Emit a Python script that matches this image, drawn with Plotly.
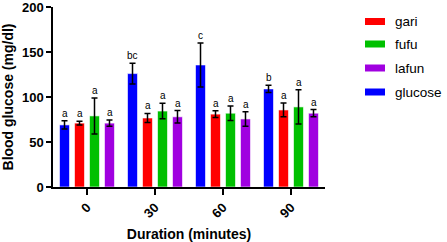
import plotly.graph_objects as go

durations = ["0", "30", "60", "90"]
series_names = ["glucose", "gari", "fufu", "lafun"]
glucose = [69, 126, 135.6, 109]
glucose_err = [4.5, 11.5, 24.5, 4]
gari = [71, 76.7, 81, 85.6]
gari_err = [2, 5, 3.7, 7.6]
fufu = [79, 84.4, 82, 89]
fufu_err = [20, 8.7, 8, 19]
lafun = [71, 78, 75.6, 82]
lafun_err = [3.5, 7, 8, 4]
glucose_lbl = ["a", "bc", "c", "b"]
gari_lbl = ["a", "a", "a", "a"]
fufu_lbl = ["a", "a", "a", "a"]
lafun_lbl = ["a", "a", "a", "a"]
legend_order = ["gari", "fufu", "lafun", "glucose"]

colors = {"glucose": "#0000FF", "gari": "#FF0000", "fufu": "#00C000", "lafun": "#A000E0"}
values = {"glucose": glucose, "gari": gari, "fufu": fufu, "lafun": lafun}
errors = {"glucose": glucose_err, "gari": gari_err, "fufu": fufu_err, "lafun": lafun_err}
labels = {"glucose": glucose_lbl, "gari": gari_lbl, "fufu": fufu_lbl, "lafun": lafun_lbl}

xpos = list(range(len(durations)))  # category index on the x axis

FONT = "Liberation Sans, Arial, sans-serif"
fig = go.Figure()
for name in series_names:
    fig.add_trace(go.Bar(
        x=xpos, y=values[name], name=name,
        marker=dict(color=colors[name], line=dict(color="rgba(255,255,255,0.6)", width=1)),
        error_y=dict(type="data", array=errors[name], visible=True,
                     color="black", thickness=1.5, width=3),
        showlegend=False,
    ))

slot = 15
annotations = []
for k, name in enumerate(series_names):
    for i in xpos:
        annotations.append(dict(
            x=i, y=values[name][i] + errors[name][i], xref="x", yref="y",
            text=labels[name][i], showarrow=False, yanchor="bottom",
            xshift=(k - 1.5) * slot, yshift=0,
            font=dict(family=FONT, size=10, color="black")))

# custom legend (plot area in pixels: x 53..325, y 7..187)
shapes = []
leg_y = [21.5, 44, 68, 92]
for j, name in enumerate(legend_order):
    y = leg_y[j]
    shapes.append(dict(type="rect", xref="paper", yref="paper",
                       x0=(365 - 53) / 272, x1=(385 - 53) / 272,
                       y0=(187 - (y + 3.5)) / 180, y1=(187 - (y - 3.5)) / 180,
                       line=dict(width=0), fillcolor=colors[name], layer="above"))
    annotations.append(dict(xref="paper", yref="paper", x=(394 - 53) / 272,
                            y=(187 - y) / 180, xanchor="left", yanchor="middle",
                            text=name, showarrow=False, borderpad=0,
                            font=dict(family=FONT, size=13.5, color="black")))

fig.update_layout(
    width=447, height=242,
    margin=dict(l=53, r=122, t=7, b=55),
    plot_bgcolor="white", paper_bgcolor="white",
    barmode="group", bargap=0.118, bargroupgap=0.333,
    font=dict(family=FONT, color="black"),
    annotations=annotations, shapes=shapes,
    xaxis=dict(
        automargin=False,
        range=[-0.5, len(durations) - 0.5], tickvals=xpos, ticktext=durations,
        showline=True, linecolor="black", linewidth=1.5,
        ticks="outside", ticklen=6, tickwidth=1.5, tickcolor="black",
        tickangle=-45, tickfont=dict(family=FONT, size=13, color="black", weight="bold"),
        title=dict(text="<b>Duration (minutes)</b>", font=dict(family=FONT, size=14), standoff=10),
        showgrid=False, zeroline=False,
    ),
    yaxis=dict(
        automargin=False,
        range=[0, 200], tickvals=[0, 50, 100, 150, 200],
        showline=True, linecolor="black", linewidth=1.5,
        ticks="outside", ticklen=5, tickwidth=1.5, tickcolor="black",
        ticklabeloverflow="allow",
        tickfont=dict(family=FONT, size=13, color="black", weight="bold"),
        title=dict(text="<b>Blood glucose (mg/dl)</b>", font=dict(family=FONT, size=14), standoff=6),
        showgrid=False, zeroline=False,
    ),
)
fig.write_html("out.html", config={"displayModeBar": False},
               post_script="document.body.style.margin='0';")
